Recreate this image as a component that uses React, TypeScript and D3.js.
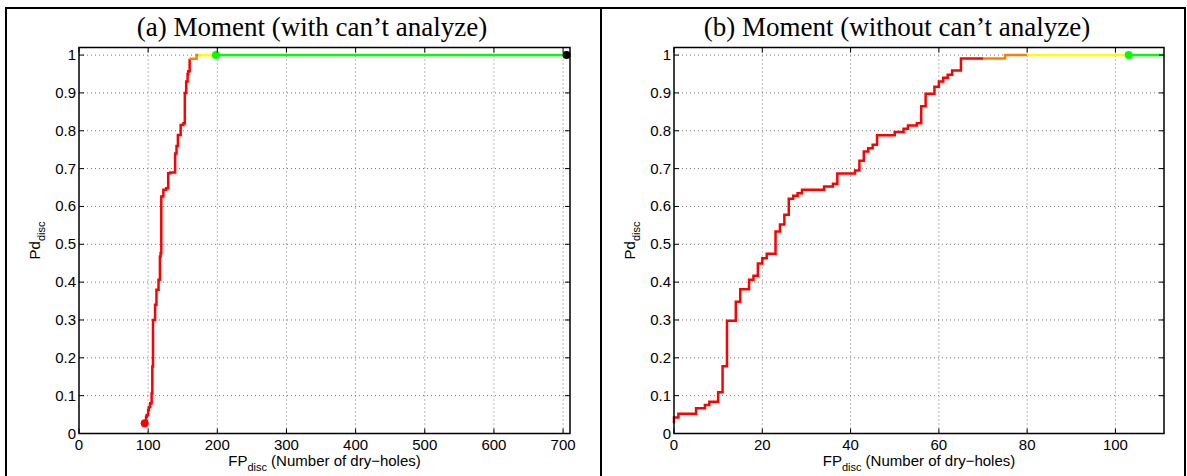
import * as d3 from "d3";

// (a) with can't analyze — red staircase, then orange/yellow/green tails
const leftRedFp = [95, 97, 98, 100, 101, 103, 105, 106, 107, 107, 110, 112, 115, 117, 118, 119, 119, 122, 126, 129, 132, 139, 141, 143, 147, 147, 151, 153, 155, 157, 158, 160];
const leftRedPd = [0.027, 0.044, 0.049, 0.062, 0.07, 0.08, 0.106, 0.177, 0.186, 0.3, 0.34, 0.38, 0.406, 0.468, 0.477, 0.538, 0.626, 0.644, 0.648, 0.688, 0.69, 0.74, 0.76, 0.789, 0.79, 0.815, 0.82, 0.9, 0.93, 0.95, 0.957, 0.99];
const leftOrangeFp = [160, 170, 173];
const leftOrangePd = [0.99, 1, 1];
const leftYellowFp = [173, 198];
const leftYellowPd = [1, 1];
const leftGreenFp = [198, 705];
const leftGreenPd = [1, 1];

// (b) without can't analyze
const rightRedFp = [0, 0, 1, 5, 7, 8, 10, 11, 12, 14, 15, 17, 18, 19, 20, 21, 23, 24, 25, 26, 27, 28, 29, 34, 36, 37, 41, 42, 43, 44, 45, 46, 50, 52, 53, 55, 56, 57, 59, 60, 61, 62, 63, 65, 70];
const rightRedPd = [0.027, 0.042, 0.052, 0.067, 0.075, 0.084, 0.109, 0.178, 0.298, 0.348, 0.381, 0.406, 0.417, 0.449, 0.463, 0.475, 0.534, 0.552, 0.578, 0.62, 0.628, 0.635, 0.644, 0.653, 0.66, 0.687, 0.695, 0.721, 0.745, 0.754, 0.763, 0.788, 0.797, 0.805, 0.814, 0.82, 0.865, 0.898, 0.916, 0.93, 0.94, 0.948, 0.959, 0.991, 0.991];
const rightOrangeFp = [70, 75, 80];
const rightOrangePd = [0.991, 1, 1];
const rightYellowFp = [80, 103];
const rightYellowPd = [1, 1];
const rightGreenFp = [103, 111];
const rightGreenPd = [1, 1];

const leftXTicks = [0, 100, 200, 300, 400, 500, 600, 700];
const rightXTicks = [0, 20, 40, 60, 80, 100];
const yTicks = [0, 0.1, 0.2, 0.3, 0.4, 0.5, 0.6, 0.7, 0.8, 0.9, 1];

const W = 1187;
const H = 476;
const TOP = 47.5;
const BOTTOM = 433.5;
const SANS = "'Liberation Sans', Arial, sans-serif";
const SERIF = "'Liberation Serif', 'Times New Roman', serif";

type Seg = { fp: number[]; pd: number[]; color: string };
type Dot = { fp: number; pd: number; color: string };

function Panel({
  left, right, xMax, xTicks, segs, dots, title, titleX,
}: {
  left: number; right: number; xMax: number; xTicks: number[];
  segs: Seg[]; dots: Dot[]; title: string; titleX: number;
}) {
  const x = d3.scaleLinear().domain([0, xMax]).range([left, right]);
  const y = d3.scaleLinear().domain([0, 1.02]).range([BOTTOM, TOP]);
  const line = d3
    .line<[number, number]>()
    .x((d) => x(d[0]))
    .y((d) => y(d[1]))
    .curve(d3.curveStepAfter);
  const tickLen = 5;
  const cx = (left + right) / 2;
  const cy = (TOP + BOTTOM) / 2;

  return (
    <g>
      <text x={titleX} y={36} fontFamily={SERIF} fontSize={27} textAnchor="middle" fill="#000">
        {title}
      </text>

      {/* grid */}
      {xTicks.slice(1).map((t) => (
        <line key={"gx" + t} x1={x(t)} x2={x(t)} y1={TOP} y2={BOTTOM} stroke="#777" strokeWidth={1} strokeDasharray="1 3" />
      ))}
      {yTicks.slice(1).map((t) => (
        <line key={"gy" + t} x1={left} x2={right} y1={y(t)} y2={y(t)} stroke="#777" strokeWidth={1} strokeDasharray="1 3" />
      ))}

      {/* curves */}
      {segs.map((s, i) => (
        <path
          key={"s" + i}
          d={line(s.fp.map((f, j) => [f, s.pd[j]] as [number, number])) || ""}
          fill="none"
          stroke={s.color}
          strokeWidth={2.5}
        />
      ))}
      {dots.map((d, i) => (
        <circle key={"d" + i} cx={x(d.fp)} cy={y(d.pd)} r={4} fill={d.color} />
      ))}

      {/* box + ticks */}
      <rect x={left} y={TOP} width={right - left} height={BOTTOM - TOP} fill="none" stroke="#000" strokeWidth={1.5} />
      {xTicks.map((t) => (
        <g key={"tx" + t}>
          <line x1={x(t)} x2={x(t)} y1={BOTTOM} y2={BOTTOM - tickLen} stroke="#000" />
          <line x1={x(t)} x2={x(t)} y1={TOP} y2={TOP + tickLen} stroke="#000" />
          <text x={x(t)} y={450} fontFamily={SANS} fontSize={15} textAnchor="middle" fill="#000">
            {t}
          </text>
        </g>
      ))}
      {yTicks.map((t) => (
        <g key={"ty" + t}>
          <line x1={left} x2={left + tickLen} y1={y(t)} y2={y(t)} stroke="#000" />
          <line x1={right} x2={right - tickLen} y1={y(t)} y2={y(t)} stroke="#000" />
          <text x={left - 3} y={y(t) + 5} fontFamily={SANS} fontSize={15} textAnchor="end" fill="#000">
            {d3.format("~g")(t)}
          </text>
        </g>
      ))}

      {/* axis labels */}
      <text x={cx} y={466} fontFamily={SANS} fontSize={15} textAnchor="middle" fill="#000">
        FP<tspan fontSize={11} dy={5}>disc</tspan>
        <tspan dy={-5}> (Number of dry−holes)</tspan>
      </text>
      <text
        transform={`translate(${left - 39},${cy}) rotate(-90)`}
        fontFamily={SANS}
        fontSize={15}
        textAnchor="middle"
        fill="#000"
      >
        Pd<tspan fontSize={11} dy={5}>disc</tspan>
      </text>
    </g>
  );
}

export default function App() {
  return (
    <svg
      width={W}
      height={H}
      style={{ position: "absolute", left: 0, top: 0, background: "#fff" }}
    >
      <rect width={W} height={H} fill="#fff" />
      {/* table frame */}
      <line x1={5} x2={1186} y1={8} y2={8} stroke="#000" strokeWidth={2} />
      <line x1={6} x2={6} y1={7} y2={H} stroke="#000" strokeWidth={2} />
      <line x1={601} x2={601} y1={7} y2={H} stroke="#000" strokeWidth={2} />
      <line x1={1185} x2={1185} y1={7} y2={H} stroke="#000" strokeWidth={2} />

      <Panel
        left={79}
        right={570}
        xMax={710}
        xTicks={leftXTicks}
        title="(a) Moment (with can’t analyze)"
        titleX={312}
        segs={[
          { fp: leftRedFp, pd: leftRedPd, color: "#ff0000" },
          { fp: leftOrangeFp, pd: leftOrangePd, color: "#ff8000" },
          { fp: leftYellowFp, pd: leftYellowPd, color: "#ffff00" },
          { fp: leftGreenFp, pd: leftGreenPd, color: "#00ff00" },
        ]}
        dots={[
          { fp: leftRedFp[0], pd: leftRedPd[0], color: "#ff0000" },
          { fp: leftGreenFp[0], pd: leftGreenPd[0], color: "#00ff00" },
          { fp: leftGreenFp[1], pd: leftGreenPd[1], color: "#000000" },
        ]}
      />
      <Panel
        left={674}
        right={1164}
        xMax={111}
        xTicks={rightXTicks}
        title="(b) Moment (without can’t analyze)"
        titleX={897}
        segs={[
          { fp: rightRedFp, pd: rightRedPd, color: "#ff0000" },
          { fp: rightOrangeFp, pd: rightOrangePd, color: "#ff8000" },
          { fp: rightYellowFp, pd: rightYellowPd, color: "#ffff00" },
          { fp: rightGreenFp, pd: rightGreenPd, color: "#00ff00" },
        ]}
        dots={[{ fp: rightGreenFp[0], pd: rightGreenPd[0], color: "#00ff00" }]}
      />
    </svg>
  );
}
